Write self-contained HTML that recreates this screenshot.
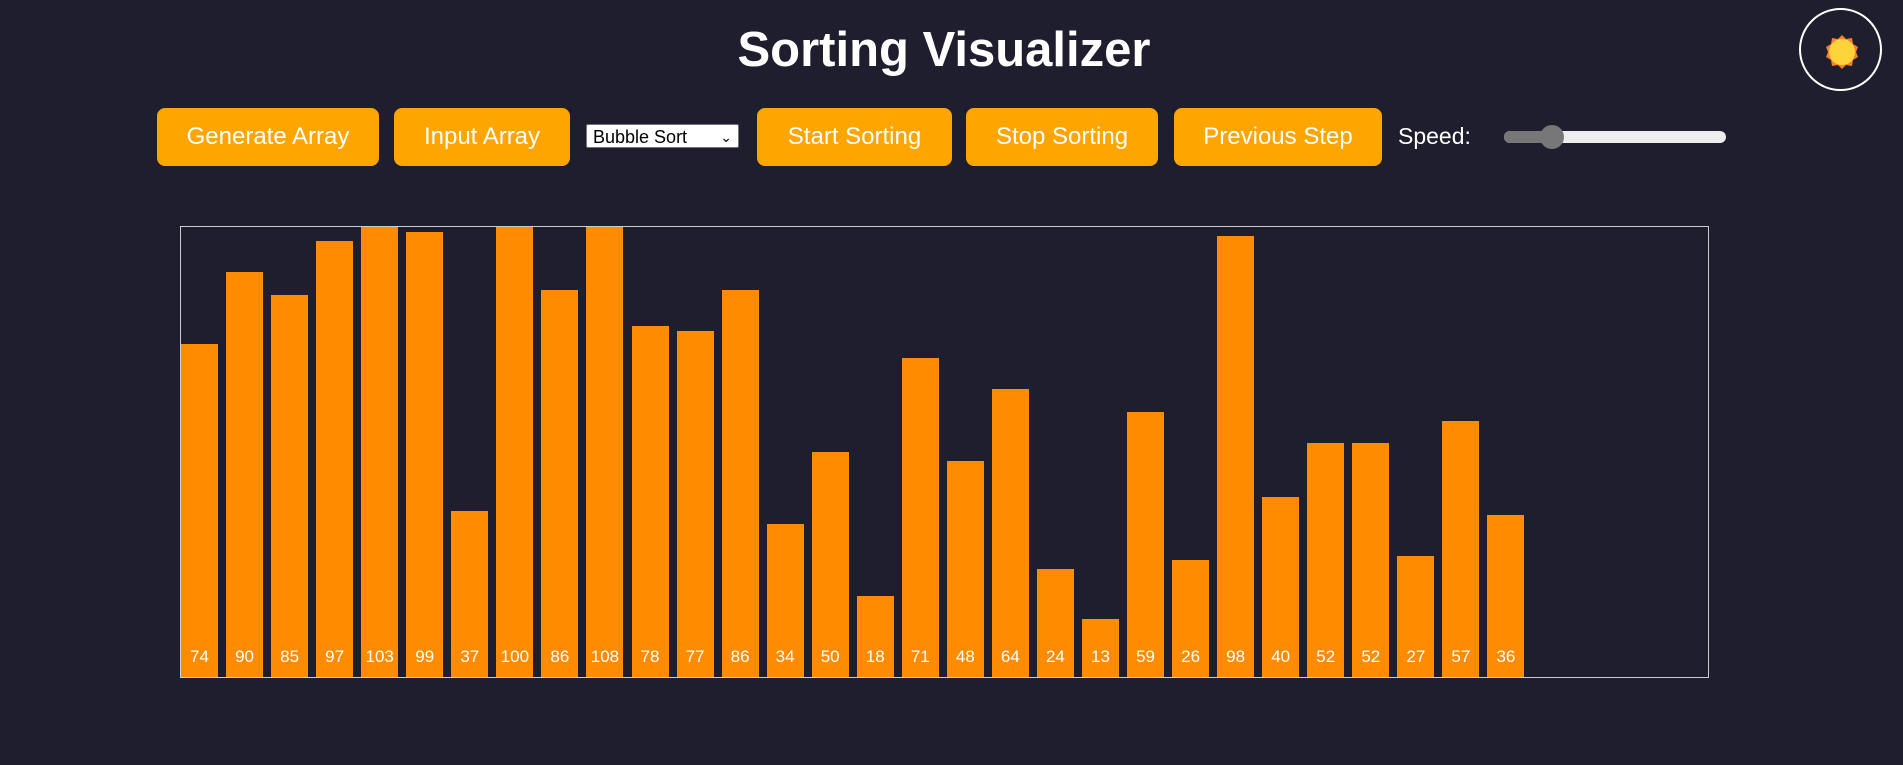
<!DOCTYPE html>
<html><head><meta charset="utf-8"><style>
body{margin:0;width:1903px;height:765px;background:#1f1e2f;overflow:hidden;font-family:"Liberation Sans",Arial,sans-serif;position:relative}
.btn{position:absolute;top:108px;height:58px;background:#ffa500;color:#fff;border-radius:8px;font-size:24px;display:flex;align-items:center;justify-content:center}
#chart{position:absolute;left:180px;top:226px;width:1527px;height:450px;border:1px solid #ccc;overflow:hidden;box-sizing:content-box}
.bar{position:absolute;bottom:0;width:37px;background:#ff8c00}
.lbl{position:absolute;bottom:10px;width:37px;text-align:center;color:#fff;font-size:17px}
</style></head><body>
<div style="position:absolute;left:0;width:1888px;top:22px;text-align:center;color:#fff;font-weight:bold;font-size:49px">Sorting Visualizer</div>
<div style="position:absolute;left:1799px;top:8px;width:79px;height:79px;border:2px solid #fff;border-radius:50%">
<svg width="79" height="79"><polygon points="41,25 45,29 51,28 52,34 57,37 55,42 57,47 52,50 51,56 45,55 41,59 37,55 31,56 30,50 25,47 27,42 25,37 30,34 31,28 37,29" fill="#ff7f2a"/><circle cx="41" cy="42" r="13" fill="#ffd43b"/></svg></div>
<div class="btn" style="left:157px;width:222px">Generate Array</div>
<div class="btn" style="left:394px;width:176px">Input Array</div>
<div style="position:absolute;left:586px;top:124px;width:153px;height:24px;background:#fff;border:1px solid #777;border-radius:2px;font-size:18px;color:#000;line-height:24px;padding-left:6px;box-sizing:border-box">Bubble Sort<span style="position:absolute;right:6px;font-size:14px">&#8964;</span></div>
<div class="btn" style="left:757px;width:195px">Start Sorting</div>
<div class="btn" style="left:966px;width:192px">Stop Sorting</div>
<div class="btn" style="left:1174px;width:208px">Previous Step</div>
<div style="position:absolute;left:1398px;top:123px;color:#fff;font-size:23px">Speed:</div>
<div style="position:absolute;left:1504px;top:131px;width:222px;height:12px;background:#eee;border-radius:6px">
<div style="position:absolute;left:0;top:0;width:48px;height:12px;background:#777;border-radius:6px"></div>
<div style="position:absolute;left:36px;top:-6px;width:24px;height:24px;background:#777;border-radius:50%"></div></div>
<div id="chart"></div>
<script>
const values=[74,90,85,97,103,99,37,100,86,108,78,77,86,34,50,18,71,48,64,24,13,59,26,98,40,52,52,27,57,36];
const chart=document.getElementById('chart');
const pitch=45.05,scale=4.5;
values.forEach((v,i)=>{
const b=document.createElement('div');b.className='bar';


b.style.left=(i*pitch)+'px';b.style.height=(v*scale)+'px';chart.appendChild(b);
const l=document.createElement('div');l.className='lbl';


l.style.left=(i*pitch)+'px';l.textContent=v;chart.appendChild(l);
});
</script>
</body></html>
